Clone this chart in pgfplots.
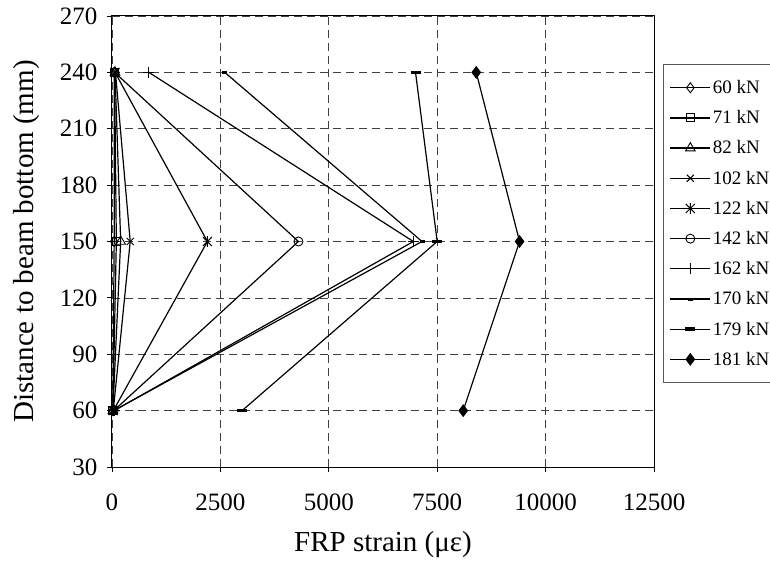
\documentclass[border=0pt]{standalone}
\usepackage{fontspec}
\setmainfont{Liberation Serif}
\usepackage{pgfplots}
\pgfplotsset{compat=1.18}

\pgfdeclareplotmark{xstar}{%
  \pgfpathmoveto{\pgfqpoint{-\pgfplotmarksize}{-\pgfplotmarksize}}%
  \pgfpathlineto{\pgfqpoint{\pgfplotmarksize}{\pgfplotmarksize}}%
  \pgfpathmoveto{\pgfqpoint{-\pgfplotmarksize}{\pgfplotmarksize}}%
  \pgfpathlineto{\pgfqpoint{\pgfplotmarksize}{-\pgfplotmarksize}}%
  \pgfpathmoveto{\pgfqpoint{0pt}{-1.2\pgfplotmarksize}}%
  \pgfpathlineto{\pgfqpoint{0pt}{1.2\pgfplotmarksize}}%
  \pgfusepathqstroke}

\begin{document}
\begin{tikzpicture}
\begin{axis}[
  scale only axis,
  width=542pt, height=451pt,
  xmin=0, xmax=12500, ymin=30, ymax=270,
  xtick={0,2500,5000,7500,10000,12500},
  ytick={30,60,90,120,150,180,210,240,270},
  /pgf/number format/assume math mode=true,
  scaled x ticks=false,
  xticklabel style={/pgf/number format/1000 sep={}, yshift=-18pt},
  yticklabel style={xshift=-6pt},
  tick label style={font=\fontsize{25}{29}\selectfont},
  label style={font=\fontsize{29}{33}\selectfont},
  xlabel={FRP strain (με)},
  ylabel={Distance to beam bottom (mm)},
  xlabel style={at={(axis description cs:0.5,-0.173)}, anchor=center},
  ylabel style={at={(axis description cs:-0.157,0.5)}, anchor=center},
  tick align=outside, major tick length=5pt,
  xtick pos=bottom, ytick pos=left,
  axis line style={line width=1pt},
  tick style={line width=0.8pt, black},
  grid=major,
  grid style={dash pattern=on 8pt off 5pt, line width=0.7pt, black!75},
  every axis plot/.append style={line width=1.2pt, black},
  legend cell align=left,
  legend style={at={(axis description cs:1.0172,0.8936)}, anchor=north west,
    draw=gray!70!black, line width=0.8pt,
    font=\fontsize{19}{22}\selectfont, row sep=11.5pt,
    inner xsep=6pt, inner ysep=14pt},
  legend image code/.code={\draw[mark repeat=2,mark phase=2,#1] plot coordinates {(0pt,0pt)(20pt,0pt)(40pt,0pt)};},
]
\coordinate (sw) at (rel axis cs:0,0);
\coordinate (ne) at (rel axis cs:1,1);
\addplot[mark=diamond, mark size=5pt, mark options={fill=white, line width=0.9pt}] coordinates {(20,60) (50,150) (50,240)};
\addlegendentry{60 kN}
\addplot[mark=square, mark size=4pt, mark options={fill=white, line width=0.9pt}] coordinates {(20,60) (100,150) (60,240)};
\addlegendentry{71 kN}
\addplot[mark=triangle, mark size=5.5pt, mark options={fill=white, line width=0.9pt}] coordinates {(20,60) (200,150) (70,240)};
\addlegendentry{82 kN}
\addplot[mark=x, mark size=5pt, mark options={line width=1pt}] coordinates {(30,60) (420,150) (80,240)};
\addlegendentry{102 kN}
\addplot[mark=xstar, mark size=4.5pt, mark options={line width=1pt}] coordinates {(30,60) (2200,150) (70,240)};
\addlegendentry{122 kN}
\addplot[mark=o, mark size=4.5pt, mark options={fill=white, line width=0.9pt}] coordinates {(40,60) (4300,150) (60,240)};
\addlegendentry{142 kN}
\addplot[mark=+, mark size=5.5pt, mark options={line width=1pt}] coordinates {(50,60) (6950,150) (850,240)};
\addlegendentry{162 kN}
\addplot[mark=-, mark size=2.5pt, mark options={line width=3pt}] coordinates {(40,60) (7150,150) (2600,240)};
\addlegendentry{170 kN}
\addplot[mark=-, mark size=5pt, mark options={line width=3.5pt}] coordinates {(3000,60) (7500,150) (7000,240)};
\addlegendentry{179 kN}
\addplot[mark=diamond*, mark size=5.5pt, mark options={fill=black}] coordinates {(8100,60) (9400,150) (8400,240)};
\addlegendentry{181 kN}
\end{axis}
\pgfresetboundingbox
\path[use as bounding box] ([xshift=-112pt,yshift=-93pt]sw) rectangle ([xshift=116pt,yshift=16pt]ne);
\end{tikzpicture}
\end{document}
